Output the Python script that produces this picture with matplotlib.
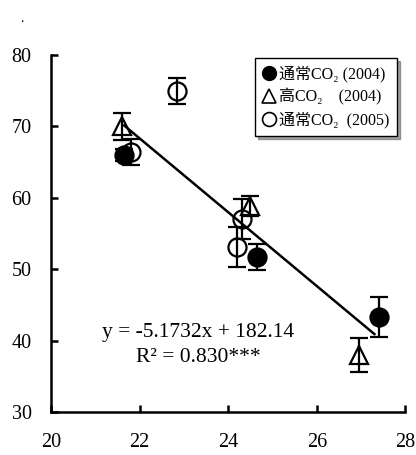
import numpy as np
from matplotlib import pyplot as plt
from matplotlib.lines import Line2D

## Data ##
# 通常CO2 (2004)
x_n04 = [21.65, 24.65, 27.4]
y_n04 = [66.0, 51.7, 43.3]
e_n04 = [0.9, 1.8, 2.8]
# 高CO2 (2004)
x_h04 = [21.6, 24.5, 26.95]
y_h04 = [70.0, 58.8, 38.0]
e_h04 = [1.9, 1.4, 2.4]
# 通常CO2 (2005)
x_n05 = [21.8, 22.85, 24.3, 24.2]
y_n05 = [66.4, 75.0, 57.0, 53.1]
e_n05 = [1.8, 1.8, 2.8, 2.8]

labels = ['通常CO₂ (2004)', '高CO₂    (2004)', '通常CO₂  (2005)']

slope, intercept = -5.1732, 182.14
fit_x = [21.65, 27.3]

xticks = [20, 22, 24, 26, 28]
yticks = [30, 40, 50, 60, 70, 80]

## Plotting ##
plt.rcParams['font.family'] = ['Liberation Serif', 'Noto Sans CJK SC', 'DejaVu Sans']

fig = plt.figure(figsize=(4.16, 4.55), dpi=100)
ax = fig.add_axes([0.1226, 0.0945, 0.852, 0.7845])

fx = np.array(fit_x)
ax.plot(fx, slope * fx + intercept, color='black', lw=1.8, zorder=1)

common = dict(ls='none', ecolor='black', elinewidth=1.6, capsize=6.5,
              capthick=1.6, markersize=13, markeredgewidth=1.6,
              markeredgecolor='black', zorder=3)
ax.errorbar(x_n04, y_n04, yerr=e_n04, fmt='o', markerfacecolor='black', **common)
ax.errorbar(x_h04, y_h04, yerr=e_h04, fmt='^', markerfacecolor='none', **common)
ax.errorbar(x_n05, y_n05, yerr=e_n05, fmt='o', markerfacecolor='none', **common)

ax.set_xlim(20, 28)
ax.set_ylim(30, 80)
ax.set_xticks(xticks)
ax.set_yticks(yticks)
ax.spines['top'].set_visible(False)
ax.spines['right'].set_visible(False)
ax.spines['left'].set_linewidth(1.8)
ax.spines['bottom'].set_linewidth(1.8)
ax.tick_params(direction='in', length=5, width=1.8, labelsize=14.5)
ax.tick_params(axis='y', pad=14)
ax.tick_params(axis='x', pad=15)

ax.text(0.415, 0.21, 'y = -5.1732x + 182.14', transform=ax.transAxes,
        ha='center', fontsize=15.5)
ax.text(0.415, 0.14, 'R² = 0.830***', transform=ax.transAxes,
        ha='center', fontsize=15.5)

handles = [
    Line2D([], [], ls='none', marker='o', color='black', markersize=10),
    Line2D([], [], ls='none', marker='^', color='black', markerfacecolor='none',
           markersize=10, markeredgewidth=1.2),
    Line2D([], [], ls='none', marker='o', color='black', markerfacecolor='none',
           markersize=10, markeredgewidth=1.2),
]
leg = ax.legend(handles, labels, loc='upper right', bbox_to_anchor=(0.985, 1.0),
                fontsize=11.5, frameon=True, fancybox=False, shadow=True,
                handletextpad=0.25, borderpad=0.45, labelspacing=0.4,
                handlelength=0.8, borderaxespad=0.2)
leg.get_frame().set_edgecolor('black')
leg.get_frame().set_linewidth(1.0)

fig.text(0.048, 0.952, '.', fontsize=10)

fig.savefig('out.png', dpi=100)
